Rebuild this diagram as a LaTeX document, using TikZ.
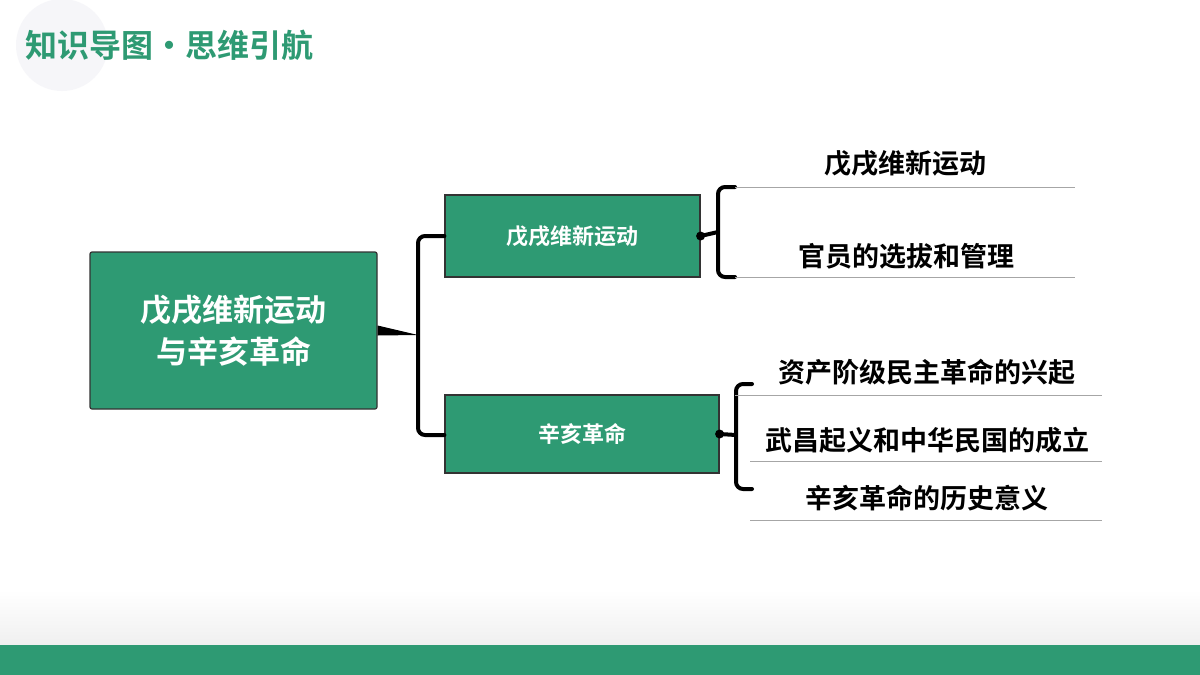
\documentclass[tikz,border=0pt]{standalone}
\usepackage{fontspec}
\setmainfont{Noto Sans CJK SC}[BoldFont={Noto Sans CJK SC Bold}]
\begin{document}
\begin{tikzpicture}[x=1pt,y=-1pt,
  box/.style={draw=black!80,line width=1.2pt,fill=gr,text=white,font=\bfseries,inner sep=0pt},
  item/.style={font=\bfseries\fontsize{27}{30}\selectfont},
  ul/.style={draw=gray!70,line width=0.8pt},
  br/.style={line width=4pt,line cap=round,rounded corners=7pt}]
\definecolor{gr}{HTML}{2E9A73}
\useasboundingbox (0,0) rectangle (1200,675);
\fill[white] (0,0) rectangle (1200,675);
\fill[top color=white,bottom color=black!6] (0,590) rectangle (1200,645);
\fill[gr] (0,645) rectangle (1200,675);
\fill[blue!20!gray!6] (62,45) circle (46);
\node[anchor=west,text=gr,font=\bfseries\fontsize{32}{34}\selectfont] (title) at (22,45) {知识导图·思维引航};
\node[box,minimum width=287,minimum height=157,rounded corners=2pt,align=center,font=\bfseries\fontsize{31}{42}\selectfont] (main) at (233.5,330.5) {戊戌维新运动\\与辛亥革命};
\node[box,minimum width=255,minimum height=82] (b1) at (572.5,236) {\fontsize{22}{24}\selectfont 戊戌维新运动};
\node[box,minimum width=274,minimum height=78] (b2) at (582,434) {\fontsize{22}{24}\selectfont 辛亥革命};
\coordinate (j) at (418,335);
\fill ([yshift=-5pt]main.east) -- (j) -- ([yshift=5pt]main.east) -- cycle;
\draw[br] (b1.west|-0,236) -- (418,236) -- (418,435) -- (b2.west|-0,435);
% right brace 1
\fill (b1.east) circle (4.5);
\draw[line width=4pt] (b1.east) -- (718,232);
\draw[br] (735,187) -- (718,187) -- (718,277) -- (735,277);
\draw[ul] (735,187) -- (1075,187);
\draw[ul] (735,277) -- (1075,277);
\node[item] (t1) at (905,163) {戊戌维新运动};
\node[item] (t2) at (906,256) {官员的选拔和管理};
% right brace 2
\fill (b2.east) circle (4.5);
\draw[line width=4pt] (b2.east) -- (736,435);
\draw[br] (752,384) -- (736,384) -- (736,489) -- (752,489);
\draw[ul] (735,395) -- (1102,395);
\draw[ul] (750,461) -- (1102,461);
\draw[ul] (750,520) -- (1102,520);
\node[item] (s1) at (927,372) {资产阶级民主革命的兴起};
\node[item] (s2) at (927,440) {武昌起义和中华民国的成立};
\node[item] (s3) at (927,498) {辛亥革命的历史意义};
\end{tikzpicture}
\end{document}
